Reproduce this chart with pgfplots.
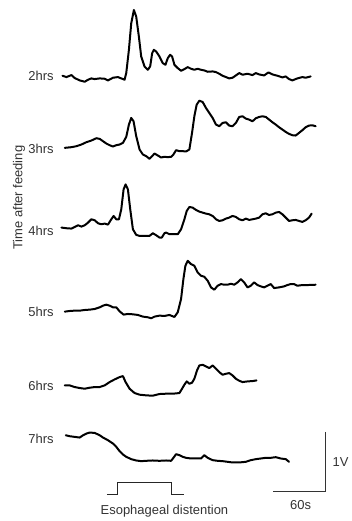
\documentclass[border=0pt]{standalone}
\usepackage{fontspec}
\setmainfont{Liberation Sans}
\usepackage{pgfplots}
\pgfplotsset{compat=1.18}
\newcommand{\lbl}{\fontsize{13}{15}\selectfont}
\begin{document}
\begin{tikzpicture}
\begin{axis}[
  width=349pt, height=521pt, scale only axis,
  xmin=0, xmax=1047, ymin=0, ymax=1563, y dir=reverse,
  hide axis, clip=false,
  trace/.style={black, no markers, line width=2pt, line join=round, line cap=round},
]
\path (axis cs:0,0) rectangle (axis cs:1047,1563);
% 2hrs
\addplot[trace] table[x=x,y=y]{
x y
188 228
200 232
215 226
225 235
240 242
255 246
265 240
275 236
285 238
300 236
315 237
325 242
340 234
355 232
365 236
375 240
380 220
388 150
395 70
403 30
410 50
418 110
425 170
435 200
445 210
452 200
458 160
463 150
470 155
480 170
490 190
498 195
505 175
512 165
518 170
525 195
535 205
545 213
555 208
565 202
575 207
585 210
595 207
605 210
615 212
625 216
640 215
650 217
660 222
670 228
680 232
690 236
700 234
710 227
720 220
730 225
745 222
760 226
770 220
780 224
795 227
808 218
820 224
835 228
850 233
860 230
870 238
880 242
895 236
910 232
920 234
935 230
};
% 3hrs
\addplot[trace] table[x=x,y=y]{
x y
195 445
215 443
230 440
245 435
260 428
275 423
290 416
300 418
310 425
320 432
330 437
340 441
350 437
360 435
370 430
380 412
388 375
395 355
402 365
410 410
420 450
430 465
440 470
450 478
458 470
465 462
475 468
485 474
495 472
505 473
515 472
522 465
530 452
540 455
550 455
560 456
570 450
578 400
585 350
592 315
600 303
610 307
620 325
630 340
640 355
650 375
660 380
670 370
680 368
690 378
700 380
710 370
720 352
730 350
740 357
750 360
760 365
770 356
780 352
790 350
800 352
810 360
820 368
830 375
840 383
850 390
860 397
870 403
880 407
890 408
900 400
910 392
920 383
930 378
940 377
950 380
};
% 4hrs
\addplot[trace] table[x=x,y expr=\thisrow{y}+510]{
x y
185 175
200 177
215 178
225 173
235 168
245 172
255 168
265 160
275 150
285 153
295 162
305 165
315 163
325 166
335 150
342 140
350 150
358 150
365 120
372 60
378 45
385 60
392 120
400 180
410 197
420 200
435 200
450 200
460 192
470 198
480 205
487 205
495 192
500 190
510 195
520 195
535 195
545 180
555 150
562 125
570 113
580 115
590 122
600 127
610 130
620 133
630 135
640 140
650 150
660 155
670 153
680 148
690 145
700 140
710 143
720 150
730 153
740 148
750 152
760 150
770 148
780 145
790 135
800 132
810 137
820 135
830 130
840 128
850 135
860 145
870 155
880 153
890 152
900 155
910 158
920 153
930 145
938 133
};
% 5hrs
\addplot[trace] table[x=x,y expr=\thisrow{y}+510]{
x y
195 428
210 426
225 425
240 425
255 423
270 422
285 420
300 415
310 410
320 407
330 410
340 415
350 415
360 427
372 437
385 435
400 436
415 438
430 443
445 445
455 448
465 443
480 440
495 441
510 438
525 444
535 430
545 390
552 330
558 290
565 275
575 285
585 290
595 310
605 320
615 323
625 335
635 355
645 362
655 350
665 345
675 347
685 347
695 344
705 347
715 340
725 330
735 340
745 355
755 350
765 340
775 348
785 352
795 355
805 350
815 345
825 357
840 355
855 352
865 348
875 345
885 345
895 350
910 348
925 348
950 347
};
% 6hrs
\addplot[trace] table[x=x,y expr=\thisrow{y}+1020]{
x y
195 140
210 140
225 145
240 148
255 150
270 147
285 145
300 145
315 140
330 130
345 122
360 115
370 112
378 130
390 150
405 163
420 168
440 170
460 171
480 166
500 165
520 165
540 163
548 150
555 138
562 128
570 135
578 132
585 120
593 95
600 80
610 78
620 83
630 88
640 80
650 90
660 100
670 108
680 105
690 103
700 110
710 120
720 126
730 130
745 128
760 127
772 125
};
% 7hrs
\addplot[trace] table[x=x,y expr=\thisrow{y}+1020]{
x y
198 290
210 293
225 295
240 297
250 290
260 285
270 282
285 283
300 290
310 297
325 305
340 315
350 325
360 338
370 348
380 355
395 362
410 366
425 368
440 367
460 366
480 367
500 366
515 367
522 358
530 347
540 350
550 355
560 358
575 360
590 360
605 360
615 350
625 358
640 365
655 367
670 368
685 370
700 372
720 372
740 370
755 365
770 362
785 360
800 358
815 358
830 356
845 360
860 362
870 370
};
% stimulus
\addplot[no markers, line width=1pt, black!85, line cap=butt, line join=miter] coordinates {(322,1487) (355,1487) (355,1452) (517,1452) (517,1487) (555,1487)};
% scale bar
\addplot[no markers, line width=1.4pt, black!80, line cap=butt, line join=miter] coordinates {(980,1300) (980,1480) (822,1480)};
\node[anchor=east, text=black!80, font=\lbl] at (axis cs:172,228) {2hrs};
\node[anchor=east, text=black!80, font=\lbl] at (axis cs:172,448) {3hrs};
\node[anchor=east, text=black!80, font=\lbl] at (axis cs:172,695) {4hrs};
\node[anchor=east, text=black!80, font=\lbl] at (axis cs:172,940) {5hrs};
\node[anchor=east, text=black!80, font=\lbl] at (axis cs:172,1160) {6hrs};
\node[anchor=east, text=black!80, font=\lbl] at (axis cs:172,1320) {7hrs};
\node[rotate=90, text=black!80, font=\lbl] at (axis cs:57,595) {Time after feeding};
\node[text=black!80, font=\lbl] at (axis cs:495,1540) {Esophageal distention};
\node[text=black!80, font=\lbl] at (axis cs:1025,1392) {1V};
\node[text=black!80, font=\lbl] at (axis cs:905,1520) {60s};
\end{axis}
\end{tikzpicture}
\end{document}
